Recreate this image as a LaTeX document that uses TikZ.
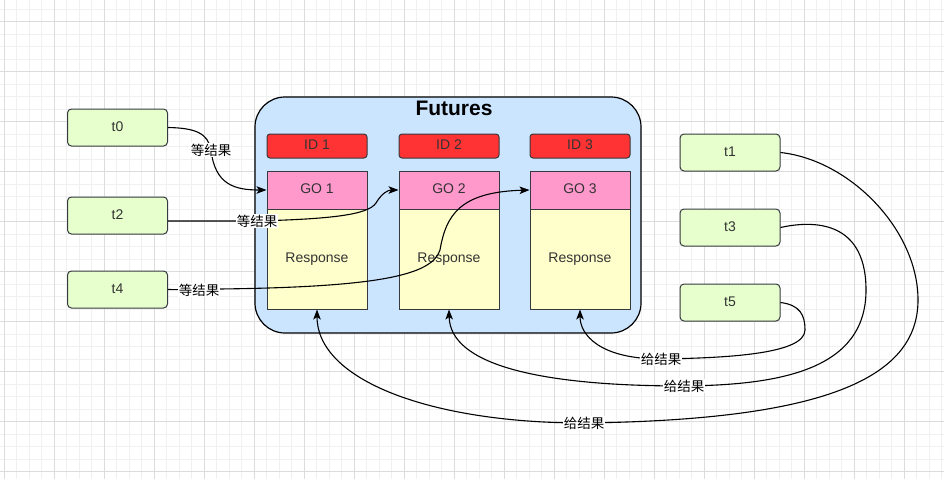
\documentclass[tikz,border=0pt]{standalone}
\usepackage{fontspec}
\setmainfont{Liberation Sans}
\newfontfamily\cjk{Noto Sans CJK SC}
\usetikzlibrary{arrows.meta}
\definecolor{strokeC}{HTML}{36393D}
\definecolor{tfill}{HTML}{E6FFCC}
\definecolor{contfill}{HTML}{CCE5FF}
\definecolor{idfill}{HTML}{FF3333}
\definecolor{gofill}{HTML}{FF99CC}
\definecolor{respfill}{HTML}{FFFFCC}
\definecolor{txtC}{HTML}{333333}
\definecolor{gridminor}{HTML}{F0F0F0}
\definecolor{gridmajor}{HTML}{DCDCDC}
\tikzset{
  minorline/.style={draw=gridminor, line width=0.8pt},
  majorline/.style={draw=gridmajor, line width=0.9pt},
  boxtext/.style={text=txtC, font=\fontsize{14}{16}\selectfont, inner sep=0pt, text height=0.72em, text depth=0pt},
  tbox/.style={rectangle, rounded corners=4pt, draw=strokeC, fill=tfill, line width=1pt,
    minimum width=100pt, minimum height=37pt, boxtext},
  container/.style={rectangle, rounded corners=30pt, draw=black, fill=contfill, line width=1.2pt,
    minimum width=386pt, minimum height=236pt, inner sep=0pt},
  idbox/.style={rectangle, rounded corners=3pt, draw=strokeC, fill=idfill, line width=1pt,
    minimum width=100pt, minimum height=24pt, boxtext},
  gobox/.style={rectangle, draw=strokeC, fill=gofill, line width=1pt,
    minimum width=100pt, minimum height=38pt, boxtext},
  respbox/.style={rectangle, draw=strokeC, fill=respfill, line width=1pt,
    minimum width=100pt, minimum height=100pt, boxtext},
  lbl/.style={fill=white, inner sep=0.5pt, text=black, font=\cjk\fontsize{13.5}{15}\selectfont},
  edge/.style={draw=black, line width=1.1pt, -{Stealth[length=10pt,width=7.5pt,inset=2.5pt]}},
}
\begin{document}
\begin{tikzpicture}[x=1pt,y=-1pt]
\useasboundingbox (0,0) rectangle (944,479);
\fill[white] (0,0) rectangle (944,479);
% grid
\foreach \i in {0,...,75} { \draw[minorline] ({4.3+12.5*\i},0) -- ({4.3+12.5*\i},479); }
\foreach \j in {0,...,37} { \draw[minorline] (0,{9.2+12.5*\j}) -- (944,{9.2+12.5*\j}); }
\foreach \i in {0,...,18} { \draw[majorline] ({4.3+50*\i},0) -- ({4.3+50*\i},479); }
\foreach \j in {0,...,9} { \draw[majorline] (0,{21.7+50*\j}) -- (944,{21.7+50*\j}); }

% container
\node[container] (fut) at (448,215) {};
\node[font=\bfseries\fontsize{21}{24}\selectfont] (title) at (454,108) {Futures};

% ids
\node[idbox] (id1) at (317,146) {ID 1};
\node[idbox] (id2) at (449,146) {ID 2};
\node[idbox] (id3) at (580,146) {ID 3};
% responses
\node[respbox] (r1) at (317,259) {Response};
\node[respbox] (r2) at (449,259) {Response};
\node[respbox] (r3) at (580,259) {Response};
% go
\node[gobox] (go1) at (317,190) {GO 1};
\node[gobox] (go2) at (449,190) {GO 2};
\node[gobox] (go3) at (580,190) {GO 3};

% t boxes
\node[tbox] (t0) at (117.5,127.5) {t0};
\node[tbox] (t2) at (117.5,215.5) {t2};
\node[tbox] (t4) at (117.5,289.5) {t4};
\node[tbox] (t1) at (730,152.5) {t1};
\node[tbox] (t3) at (730,227.5) {t3};
\node[tbox] (t5) at (730,302.5) {t5};

% label anchor coordinates
\coordinate (c0) at (211,150);
\coordinate (c2) at (257,221);
\coordinate (c4) at (199,290);
\coordinate (c5) at (661,359);
\coordinate (c3) at (684,386);
\coordinate (c1) at (584,423);

% waiting edges
\draw[edge] (t0.east) .. controls (195,128) and (208,133) .. (c0) .. controls (215,185) and (235,190) .. (go1.west);
\draw[edge] (t2.east |- c2) -- (c2) .. controls (330,219) and (368,215) .. (376,203) .. controls (382,193) and (388,190) .. (go2.west);
\draw[edge] (t4.east) -- (c4) -- (220,289) .. controls (380,287) and (432,275) .. (440,250) .. controls (446,215) and (460,192) .. (go3.west);

% giving edges
\draw[edge] (t1.east) .. controls (850,160) and (918,230) .. (918,300) .. controls (918,380) and (820,420) .. (c1) .. controls (430,423) and (317,380) .. (r1.south);
\draw[edge] (t3.east) .. controls (805,222) and (866,215) .. (866,290) .. controls (866,370) and (780,385) .. (c3) .. controls (540,386) and (450,365) .. (r2.south);
\draw[edge] (t5.east) .. controls (800,305) and (805,315) .. (805,330) .. controls (805,355) and (720,358) .. (c5) .. controls (600,359) and (580,335) .. (r3.south);

% labels
\node[lbl] (l0) at (c0) {等结果};
\node[lbl] (l2) at (c2) {等结果};
\node[lbl] (l4) at (c4) {等结果};
\node[lbl] (l5) at (c5) {给结果};
\node[lbl] (l3) at (c3) {给结果};
\node[lbl] (l1) at (c1) {给结果};
\end{tikzpicture}
\end{document}
